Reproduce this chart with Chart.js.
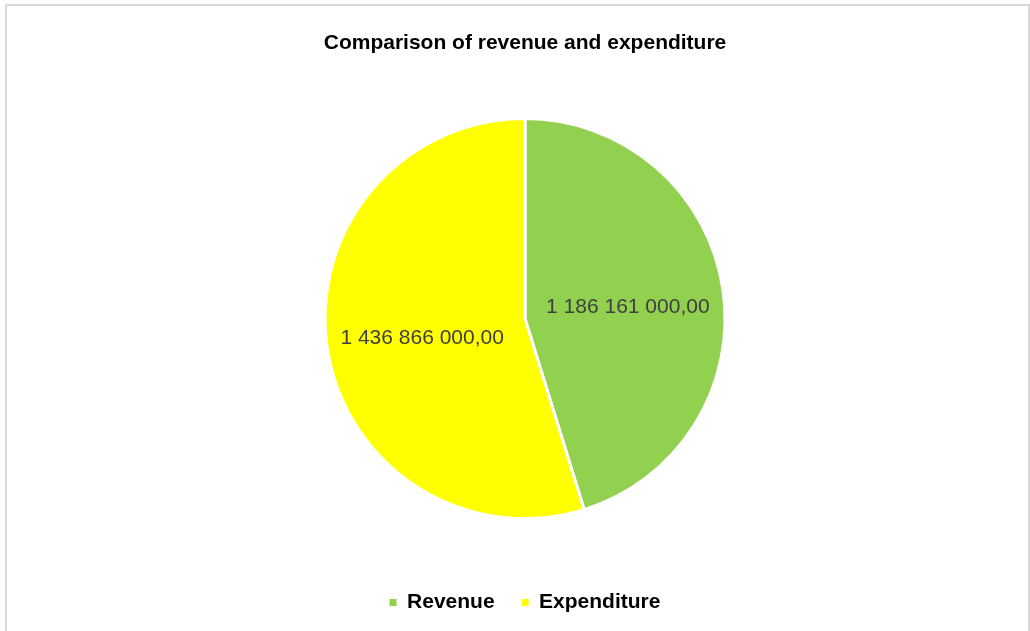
<!DOCTYPE html>
<html>
<head>
<meta charset="utf-8">
<title>Comparison of revenue and expenditure</title>
<script src="https://cdn.jsdelivr.net/npm/chart.js@4/dist/chart.umd.min.js"></script>
<style>
    html, body {
        margin: 0;
        padding: 0;
        background: #ffffff;
        overflow: hidden;
    }
    #frame {
        position: absolute;
        left: 5px;
        top: 4px;
        width: 1021px;
        height: 700px;
        border: 2px solid #d9d9d9;
        border-bottom: none;
    }
    #wrap {
        position: relative;
        width: 1021px;
        height: 632px;
    }
</style>
</head>
<body>
<div id="frame">
    <div id="wrap"><canvas id="myChart"></canvas></div>
</div>
<script>
const categories = ["Revenue", "Expenditure"];
const amounts = [1186161000, 1436866000];
const sliceColors = ["#92d050", "#ffff00"];

// 1186161000 -> "1 186 161 000,00"
function formatAmount(v) {
    const parts = v.toFixed(2).split(".");
    const whole = parts[0].replace(/\B(?=(\d{3})+(?!\d))/g, " ");
    return whole + "," + parts[1];
}

// value labels inside each slice, about half way out from the centre
const sliceLabels = {
    id: "sliceLabels",
    afterDatasetsDraw(chart) {
        const ctx = chart.ctx;
        const meta = chart.getDatasetMeta(0);
        ctx.save();
        ctx.font = "21px 'Liberation Sans', Arial, sans-serif";
        ctx.fillStyle = "#404040";
        ctx.textAlign = "center";
        ctx.textBaseline = "middle";
        meta.data.forEach((arc, i) => {
            const p = arc.getProps(["x", "y", "startAngle", "endAngle", "outerRadius"], true);
            const mid = (p.startAngle + p.endAngle) / 2;
            const r = p.outerRadius * 0.52;
            ctx.fillText(formatAmount(amounts[i]), p.x + Math.cos(mid) * r, p.y + Math.sin(mid) * r + 4);
        });
        ctx.restore();
    },
};

new Chart("myChart", {
    type: "pie",
    data: {
        labels: categories,
        datasets: [
            {
                data: amounts,
                backgroundColor: sliceColors,
                borderColor: "#ffffff",
                borderWidth: 3,
            },
        ],
    },
    plugins: [sliceLabels],
    options: {
        responsive: true,
        maintainAspectRatio: false,
        animation: false,
        radius: 200,
        layout: {
            padding: { left: 15, right: 0, top: 0, bottom: 15 },
        },
        plugins: {
            title: {
                display: true,
                text: "Comparison of revenue and expenditure",
                color: "#000000",
                font: { family: "'Liberation Sans', Arial, sans-serif", size: 21, weight: "bold" },
                padding: { top: 25, bottom: 16 },
            },
            legend: {
                position: "bottom",
                labels: {
                    color: "#000000",
                    font: { family: "'Liberation Sans', Arial, sans-serif", size: 21, weight: "bold" },
                    boxWidth: 7,
                    boxHeight: 7,
                    padding: 27,
                    generateLabels(chart) {
                        return Chart.controllers.pie.overrides.plugins.legend.labels
                            .generateLabels(chart)
                            .map((item) => Object.assign(item, { lineWidth: 0 }));
                    },
                },
            },
            tooltip: { enabled: false },
        },
    },
});
</script>
</body>
</html>
